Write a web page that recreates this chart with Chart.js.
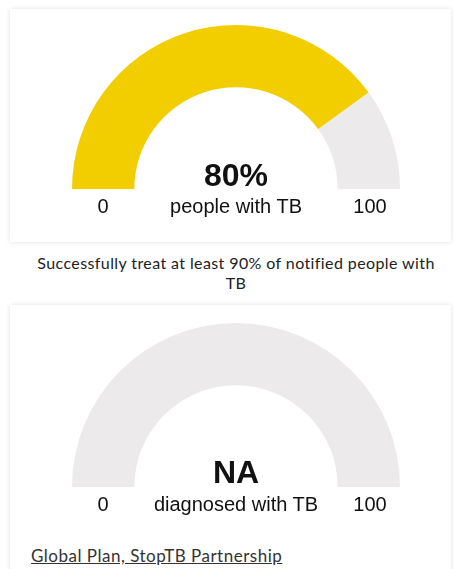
<!DOCTYPE html>
<html lang="en">
<head>
    <meta charset="UTF-8">
    <title>TB gauges</title>
    <script src="https://cdn.jsdelivr.net/npm/chart.js"></script>
    <style>
        body { margin: 0; width: 455px; height: 569px; overflow: hidden; background: #fff; position: relative; font-family: "Liberation Sans", Arial, sans-serif; }
        .card { position: absolute; left: 10px; width: 441px; background: #fff; box-shadow: 0 0 5px rgba(0,0,0,0.12); }
        .gauge { position: absolute; left: 72px; width: 328px; height: 164px; }
        .txt { position: absolute; color: #111; white-space: nowrap; line-height: 1; }
        .big { font-weight: bold; font-size: 32px; left: 0; width: 472px; text-align: center; }
        .sub { font-size: 20px; left: 0; width: 472px; text-align: center; }
        .tick { font-size: 20px; width: 60px; text-align: center; }
        .caption { position: absolute; left: 0; top: 253px; width: 472px; text-align: center; font-family: Lato, "Open Sans", sans-serif; font-size: 16px; line-height: 20px; color: #222; letter-spacing: 0.4px; }
        .source { position: absolute; left: 31px; top: 545px; font-family: Lato, "Open Sans", sans-serif; font-size: 17px; color: #333; text-decoration: underline; letter-spacing: 0.5px; }
    </style>
</head>
<body>
    <div class="card" style="top: 9px; height: 233px;"></div>
    <div class="card" style="top: 305px; height: 280px;"></div>

    <!-- Treatment gauge -->
    <div class="gauge" style="top: 25px;"><canvas id="treatedChart"></canvas></div>
    <div class="txt big" style="top: 159px;" id="treatedValue"></div>
    <div class="txt sub" style="top: 196px;" id="treatedLabel"></div>
    <div class="txt tick" style="left: 73px; top: 196px;" id="treatedMin"></div>
    <div class="txt tick" style="left: 340px; top: 196px;" id="treatedMax"></div>

    <div class="caption">Successfully treat at least 90% of notified people with<br>TB</div>

    <!-- Diagnosis gauge -->
    <div class="gauge" style="top: 323px;"><canvas id="diagnosedChart"></canvas></div>
    <div class="txt big" style="top: 456px;" id="diagnosedValue"></div>
    <div class="txt sub" style="top: 494px;" id="diagnosedLabel"></div>
    <div class="txt tick" style="left: 73px; top: 494px;" id="diagnosedMin"></div>
    <div class="txt tick" style="left: 340px; top: 494px;" id="diagnosedMax"></div>

    <div class="source">Global Plan, StopTB Partnership</div>

    <script>
        // Data
        const gaugeParts = ['Achieved', 'Remaining'];
        const scaleLabels = ['0', '100'];
        const treatedValues = [80, 20];
        const diagnosedValues = [0, 100]; // no data (NA): gauge left empty
        const centerTexts = ['80%', 'NA'];
        const subTexts = ['people with TB', 'diagnosed with TB'];

        const YELLOW = '#F2CD00';
        const GREY = '#ECEAEB';

        function initGauge(id, values) {
            const ctx = document.getElementById(id).getContext('2d');
            new Chart(ctx, {
                type: 'doughnut',
                data: {
                    labels: gaugeParts,
                    datasets: [{
                        data: values,
                        backgroundColor: [YELLOW, GREY],
                        borderWidth: 0
                    }]
                },
                options: {
                    responsive: true,
                    maintainAspectRatio: false,
                    animation: false,
                    events: [],
                    rotation: -90,
                    circumference: 180,
                    cutout: '62%',
                    layout: { padding: 0 },
                    plugins: {
                        legend: { display: false },
                        tooltip: { enabled: false }
                    }
                }
            });
        }

        initGauge('treatedChart', treatedValues);
        initGauge('diagnosedChart', diagnosedValues);

        document.getElementById('treatedValue').textContent = centerTexts[0];
        document.getElementById('treatedLabel').textContent = subTexts[0];
        document.getElementById('treatedMin').textContent = scaleLabels[0];
        document.getElementById('treatedMax').textContent = scaleLabels[1];
        document.getElementById('diagnosedValue').textContent = centerTexts[1];
        document.getElementById('diagnosedLabel').textContent = subTexts[1];
        document.getElementById('diagnosedMin').textContent = scaleLabels[0];
        document.getElementById('diagnosedMax').textContent = scaleLabels[1];
    </script>
</body>
</html>
